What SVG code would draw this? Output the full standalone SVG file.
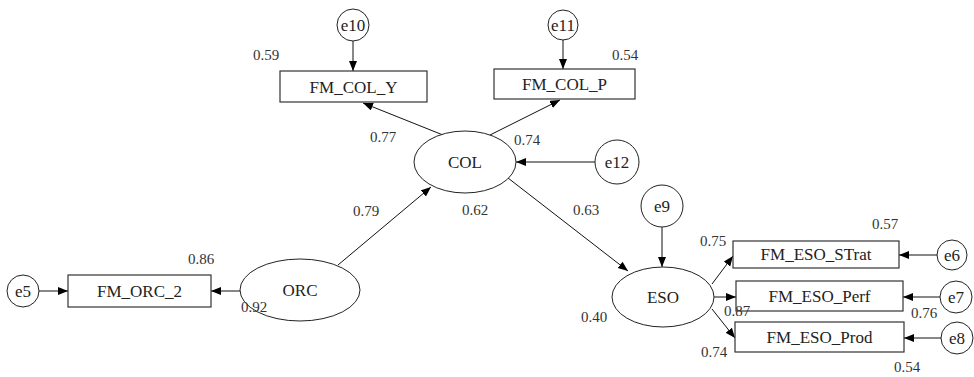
<svg xmlns="http://www.w3.org/2000/svg" width="974" height="377" viewBox="0 0 974 377">
<defs>
<marker id="arr" markerUnits="userSpaceOnUse" markerWidth="11" markerHeight="9" refX="10" refY="4" orient="auto">
<path d="M0,0 L10,4 L0,8 z" fill="#000"/>
</marker>
<style>
.box{fill:#fff;stroke:#333;stroke-width:1.2}
.lat{fill:#fff;stroke:#222;stroke-width:1}
.err{fill:#fff;stroke:#222;stroke-width:1}
text{font-family:'Liberation Serif','Times New Roman','DejaVu Serif',serif}
.n{font-size:17px;fill:#222;text-anchor:middle}
.v{font-size:15px;fill:#333;text-anchor:middle}
.c{fill:none;stroke:#111;stroke-width:1;marker-end:url(#arr)}
</style>
</defs>
<rect width="974" height="377" fill="#fff"/>
<g id="connectors">
<path class="c" d="M353,40 L353,71"/>
<path class="c" d="M563,40 L563,69"/>
<path class="c" d="M443,135 L363,103"/>
<path class="c" d="M490,135 L560,100"/>
<path class="c" d="M595,162 L516,162"/>
<path class="c" d="M338,265 L431,187"/>
<path class="c" d="M508,178 L628,271"/>
<path class="c" d="M662,227 L662,267"/>
<path class="c" d="M240,291 L211,291"/>
<path class="c" d="M39,291 L68,291"/>
<path class="c" d="M712,284 L733,256"/>
<path class="c" d="M714,297 L736,297"/>
<path class="c" d="M712,309 L735,338"/>
<path class="c" d="M937,255 L899,255"/>
<path class="c" d="M940,297 L903,297"/>
<path class="c" d="M942,338 L904,338"/>
</g>
<g id="e10"><circle class="err" cx="353" cy="25" r="16"/><text class="n" x="353" y="31">e10</text></g>
<g id="e11"><circle class="err" cx="563" cy="25" r="15"/><text class="n" x="563" y="31">e11</text></g>
<g id="FM_COL_Y"><rect class="box" x="280" y="71" width="147" height="31"/><text class="n" x="353.5" y="93">FM_COL_Y</text></g>
<g id="FM_COL_P"><rect class="box" x="494" y="69" width="141" height="30"/><text class="n" x="564.5" y="90">FM_COL_P</text></g>
<g id="COL"><ellipse class="lat" cx="465" cy="162" rx="51" ry="31"/><text class="n" x="465" y="168">COL</text></g>
<g id="e12"><circle class="err" cx="617" cy="162" r="22"/><text class="n" x="617" y="168">e12</text></g>
<g id="e9"><circle class="err" cx="662" cy="206" r="21"/><text class="n" x="662" y="212">e9</text></g>
<g id="ESO"><ellipse class="lat" cx="663" cy="297" rx="51" ry="30"/><text class="n" x="663" y="303">ESO</text></g>
<g id="ORC"><ellipse class="lat" cx="300" cy="290" rx="60" ry="31"/><text class="n" x="300" y="296">ORC</text></g>
<g id="FM_ORC_2"><rect class="box" x="68" y="275" width="143" height="32"/><text class="n" x="139.5" y="297">FM_ORC_2</text></g>
<g id="e5"><circle class="err" cx="23" cy="291" r="16"/><text class="n" x="23" y="297">e5</text></g>
<g id="FM_ESO_STrat"><rect class="box" x="733" y="241" width="166" height="27"/><text class="n" x="816" y="260">FM_ESO_STrat</text></g>
<g id="FM_ESO_Perf"><rect class="box" x="736" y="281" width="167" height="30"/><text class="n" x="819.5" y="302">FM_ESO_Perf</text></g>
<g id="FM_ESO_Prod"><rect class="box" x="735" y="322" width="169" height="30"/><text class="n" x="819.5" y="343">FM_ESO_Prod</text></g>
<g id="e6"><circle class="err" cx="952" cy="255" r="15"/><text class="n" x="952" y="261">e6</text></g>
<g id="e7"><circle class="err" cx="956" cy="297" r="16"/><text class="n" x="956" y="303">e7</text></g>
<g id="e8"><circle class="err" cx="957" cy="338" r="16"/><text class="n" x="957" y="344">e8</text></g>
<g id="labels">
<text class="v" x="266" y="60">0.59</text>
<text class="v" x="625" y="60">0.54</text>
<text class="v" x="383" y="142">0.77</text>
<text class="v" x="527" y="145">0.74</text>
<text class="v" x="366" y="216">0.79</text>
<text class="v" x="475" y="215">0.62</text>
<text class="v" x="586" y="215">0.63</text>
<text class="v" x="201" y="264">0.86</text>
<text class="v" x="254" y="312">0.92</text>
<text class="v" x="885" y="229">0.57</text>
<text class="v" x="713" y="246">0.75</text>
<text class="v" x="737" y="316">0.87</text>
<text class="v" x="924" y="318">0.76</text>
<text class="v" x="594" y="322">0.40</text>
<text class="v" x="714" y="357">0.74</text>
<text class="v" x="907" y="372">0.54</text>
</g>
</svg>
